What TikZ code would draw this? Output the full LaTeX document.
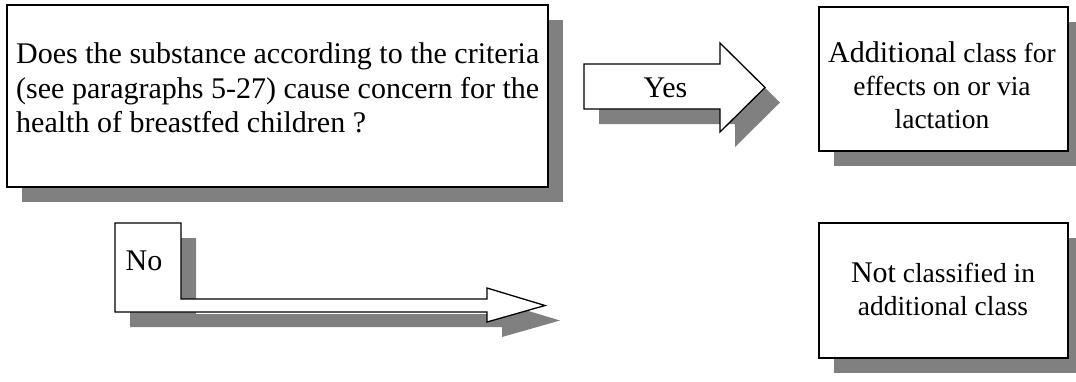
\documentclass[tikz,border=0pt]{standalone}
\usepackage{fontspec}
\setmainfont{Liberation Serif}
\usetikzlibrary{shadows,positioning}
\definecolor{shadowgray}{RGB}{128,128,128}

\begin{document}
\begin{tikzpicture}[x=1pt, y=-1pt, every node/.style={inner sep=0pt}]
  \tikzset{
    boxshadow/.style={drop shadow={shadow xshift=15pt, shadow yshift=-15pt, fill=shadowgray, opacity=1}},
    flowbox/.style={draw, line width=2pt, fill=white, boxshadow},
    blockarrow/.style={draw, line width=1.3pt, fill=white, line join=miter, boxshadow},
    bigtext/.style={font=\fontsize{30}{34.5}\selectfont},
    smalltext/.style={font=\fontsize{27.5}{33}\selectfont, align=center}
  }
  \useasboundingbox (0,0) rectangle (1076,381);

  % boxes
  \node[flowbox, minimum width=541pt, minimum height=182pt] (quest) at (277.5,96) {};
  \node[flowbox, minimum width=249pt, minimum height=144pt] (addcls) at (943.5,79) {};
  \node[flowbox, minimum width=249pt, minimum height=135pt] (notcls) at (943.5,290.5) {};

  % block arrows
  \draw[blockarrow] (584,64) -- (720,64) -- (720,43) -- (765,87.5) -- (720,132) -- (720,109) -- (584,109) -- cycle;
  \draw[blockarrow] (115,223) -- (181,223) -- (181,299) -- (487,299) -- (487,288) -- (545,305.5)
    -- (487,322) -- (487,312) -- (115,312) -- cycle;

  % texts
  \node[bigtext, align=left, anchor=north west] (questtxt) at (16,42.5)
    {Does the substance according to the criteria\\(see paragraphs 5-27) cause concern for the\\health of breastfed children ?};
  \node[bigtext, anchor=base] (yes) at (665.5,97) {Yes};
  \node[bigtext, anchor=base] (no) at (144,270) {No};
  \node[smalltext, anchor=north] (addtxt) at (942,41.5)
    {{\fontsize{30}{33}\selectfont Additional} class for\\effects on or via\\lactation};
  \node[smalltext, anchor=north] (nottxt) at (943,262.5)
    {{\fontsize{30}{33}\selectfont Not} classified in\\additional class};
\end{tikzpicture}
\end{document}
